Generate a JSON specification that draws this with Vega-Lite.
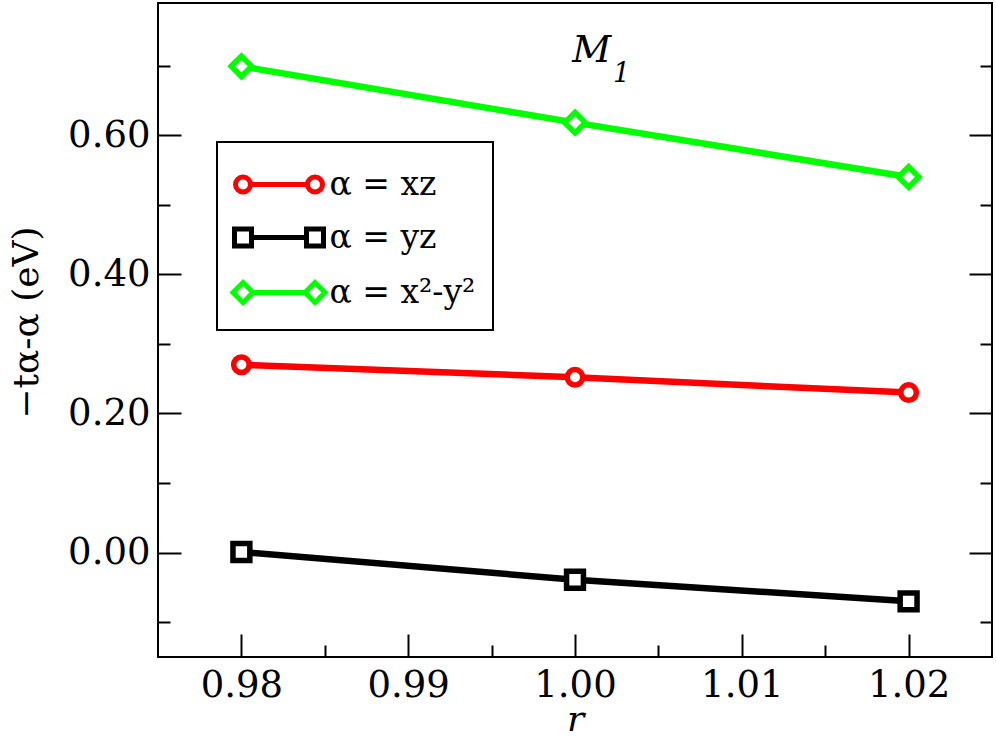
{
  "$schema": "https://vega.github.io/schema/vega-lite/v6.json",
  "width": 834,
  "height": 654,
  "autosize": {"type": "none"},
  "padding": {"left": 158, "top": 3, "right": 4, "bottom": 81},
  "background": "white",
  "config": {
    "view": {"stroke": "black", "strokeWidth": 2},
    "font": "DejaVu Serif",
    "legend": {"strokeWidth": 2}
  },
  "data": {
    "values": [
      {"r": 0.98, "t": 0.270, "alpha": "α = xz"},
      {"r": 1.00, "t": 0.252, "alpha": "α = xz"},
      {"r": 1.02, "t": 0.230, "alpha": "α = xz"},
      {"r": 0.98, "t": 0.001, "alpha": "α = yz"},
      {"r": 1.00, "t": -0.039, "alpha": "α = yz"},
      {"r": 1.02, "t": -0.070, "alpha": "α = yz"},
      {"r": 0.98, "t": 0.699, "alpha": "α = x²-y²"},
      {"r": 1.00, "t": 0.618, "alpha": "α = x²-y²"},
      {"r": 1.02, "t": 0.540, "alpha": "α = x²-y²"}
    ]
  },
  "layer": [
    {
      "mark": {"type": "line", "strokeWidth": 6.5},
      "encoding": {
        "x": {
          "field": "r", "type": "quantitative",
          "scale": {"domain": [0.975, 1.025], "nice": false, "zero": false},
          "axis": {
            "orient": "bottom",
            "values": [0.98, 0.985, 0.99, 0.995, 1.0, 1.005, 1.01, 1.015, 1.02],
            "labelExpr": "round(datum.value*200)%2==0 ? format(datum.value,'.2f') : ''",
            "tickSize": {"condition": {"test": "round(datum.value*200)%2==0", "value": -23}, "value": -12},
            "tickWidth": 2, "tickColor": "black",
            "domain": false, "grid": false,
            "labelOverlap": false, "labelFlush": false,
            "labelFont": "DejaVu Serif", "labelFontSize": 37, "labelColor": "black",
            "labelPadding": 33,
            "title": "r",
            "titleFont": "DejaVu Serif", "titleFontSize": 36, "titleFontStyle": "italic",
            "titleFontWeight": "normal", "titleColor": "black",
            "titleBaseline": "alphabetic", "titleY": 73
          }
        },
        "y": {
          "field": "t", "type": "quantitative",
          "scale": {"domain": [-0.15, 0.79], "nice": false, "zero": false},
          "axis": {
            "orient": "left",
            "values": [-0.1, 0, 0.1, 0.2, 0.3, 0.4, 0.5, 0.6, 0.7],
            "labelExpr": "round(datum.value*10)%2==0 ? format(datum.value,'.2f') : ''",
            "tickSize": {"condition": {"test": "round(datum.value*10)%2==0", "value": -23}, "value": -12},
            "tickWidth": 2, "tickColor": "black",
            "domain": false, "grid": false,
            "labelOverlap": false, "labelFlush": false,
            "labelFont": "DejaVu Serif", "labelFontSize": 37, "labelColor": "black",
            "labelPadding": 31,
            "title": "−tα-α (eV)",
            "titleFont": "DejaVu Serif", "titleFontSize": 36,
            "titleFontWeight": "normal", "titleColor": "black",
            "titleBaseline": "alphabetic", "titleAlign": "center", "titleAngle": -90,
            "titleX": -121, "titleY": 319
          }
        },
        "detail": {"field": "alpha"},
        "color": {
          "condition": [
            {"test": "datum.alpha == 'α = xz'", "value": "#ff0000"},
            {"test": "datum.alpha == 'α = yz'", "value": "#000000"}
          ],
          "value": "#00ff00"
        }
      }
    },
    {
      "mark": {"type": "point", "filled": false, "fill": "white", "fillOpacity": 1, "strokeWidth": 5.5, "opacity": 1},
      "encoding": {
        "x": {"field": "r", "type": "quantitative", "axis": null},
        "y": {
          "field": "t", "type": "quantitative",
          "axis": {
            "orient": "right",
            "values": [-0.1, 0, 0.1, 0.2, 0.3, 0.4, 0.5, 0.6, 0.7],
            "labels": false,
            "tickSize": {"condition": {"test": "round(datum.value*10)%2==0", "value": -23}, "value": -12},
            "tickWidth": 2, "tickColor": "black",
            "domain": false, "grid": false, "title": null
          }
        },
        "color": {
          "condition": [
            {"test": "datum.alpha == 'α = xz'", "value": "#ff0000"},
            {"test": "datum.alpha == 'α = yz'", "value": "#000000"}
          ],
          "value": "#00ff00"
        },
        "shape": {
          "condition": [
            {"test": "datum.alpha == 'α = xz'", "value": "circle"},
            {"test": "datum.alpha == 'α = yz'", "value": "square"}
          ],
          "value": "diamond"
        },
        "size": {
          "condition": [
            {"test": "datum.alpha == 'α = xz'", "value": 240},
            {"test": "datum.alpha == 'α = yz'", "value": 285}
          ],
          "value": 420
        }
      }
    },
    {
      "mark": {"type": "point", "opacity": 0},
      "encoding": {
        "x": {"field": "r", "type": "quantitative", "axis": null},
        "y": {"field": "t", "type": "quantitative", "axis": null},
        "color": {
          "field": "alpha", "type": "nominal",
          "scale": {"domain": ["α = xz", "α = yz", "α = x²-y²"], "range": ["#ff0000", "#000000", "#00ff00"]},
          "legend": {
            "orient": "none", "legendX": 59, "legendY": 139, "title": null,
            "strokeColor": "black", "fillColor": "white", "padding": 17,
            "symbolSize": 2116, "symbolStrokeWidth": 5, "symbolOpacity": 1, "symbolFillColor": "white",
            "symbolOffset": 19.5, "labelOffset": 25, "rowPadding": 10,
            "labelFont": "DejaVu Serif", "labelFontSize": 33, "labelColor": "black"
          }
        },
        "shape": {
          "field": "alpha", "type": "nominal",
          "scale": {
            "domain": ["α = xz", "α = yz", "α = x²-y²"],
            "range": [
              "M-1.891,0A0.326,0.326,0,1,0,-1.239,0A0.326,0.326,0,1,0,-1.891,0ZM-1.239,0L1.239,0M1.239,0A0.326,0.326,0,1,0,1.891,0A0.326,0.326,0,1,0,1.239,0Z",
              "M-1.935,-0.37L-1.195,-0.37L-1.195,0.37L-1.935,0.37ZM-1.195,0L1.195,0M1.195,-0.37L1.935,-0.37L1.935,0.37L1.195,0.37Z",
              "M-2,0L-1.565,-0.435L-1.13,0L-1.565,0.435ZM-1.13,0L1.13,0M1.13,0L1.565,-0.435L2,0L1.565,0.435Z"
            ]
          },
          "legend": {
            "orient": "none", "legendX": 59, "legendY": 139, "title": null,
            "strokeColor": "black", "fillColor": "white", "padding": 17,
            "symbolSize": 2116, "symbolStrokeWidth": 5, "symbolOpacity": 1, "symbolFillColor": "white",
            "symbolOffset": 19.5, "labelOffset": 25, "rowPadding": 10,
            "labelFont": "DejaVu Serif", "labelFontSize": 33, "labelColor": "black"
          }
        }
      }
    },
    {
      "data": {"values": [{"label": "M"}]},
      "mark": {"type": "text", "font": "DejaVu Serif", "fontSize": 38, "fontStyle": "italic", "align": "center", "baseline": "alphabetic", "color": "black"},
      "encoding": {
        "x": {"datum": 1.001, "type": "quantitative", "axis": null},
        "y": {"datum": 0.705, "type": "quantitative", "axis": null},
        "text": {"field": "label"}
      }
    },
    {
      "data": {"values": [{"label": "1"}]},
      "mark": {"type": "text", "font": "DejaVu Serif", "fontSize": 27, "fontStyle": "italic", "align": "center", "baseline": "alphabetic", "color": "black"},
      "encoding": {
        "x": {"datum": 1.0028, "type": "quantitative", "axis": null},
        "y": {"datum": 0.6765, "type": "quantitative", "axis": null},
        "text": {"field": "label"}
      }
    }
  ],
  "resolve": {"axis": {"x": "independent", "y": "independent"}}
}
